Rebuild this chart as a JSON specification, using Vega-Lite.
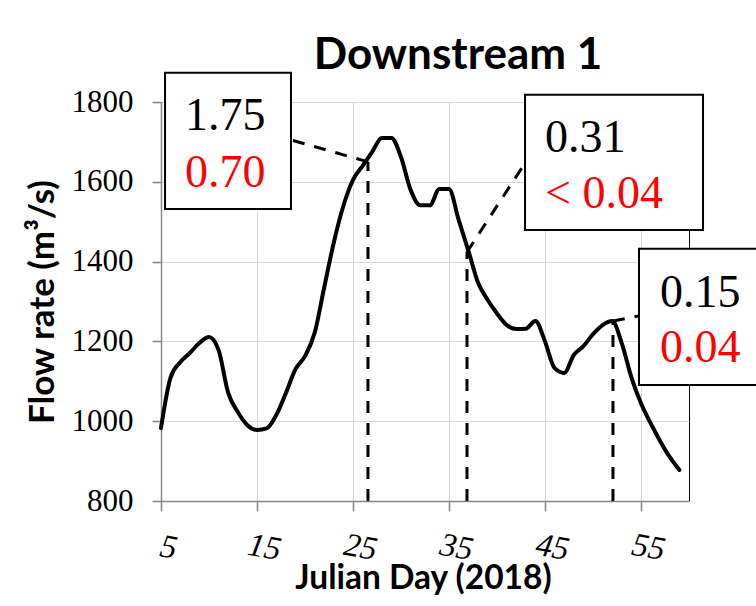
{
  "$schema": "https://vega.github.io/schema/vega-lite/v6.json",
  "width": 528,
  "height": 399,
  "autosize": {"type": "none"},
  "padding": {"left": 161, "top": 102, "right": 67, "bottom": 105},
  "background": "white",
  "title": {"text": "Downstream 1", "font": "Lato", "fontSize": 44, "fontWeight": "bold", "color": "#000", "anchor": "middle", "dx": 33, "dy": 70, "offset": 29, "baseline": "alphabetic"},
  "config": {
    "view": {"stroke": "#000", "strokeWidth": 1},
    "axis": {
      "grid": true,
      "gridColor": "#d9d9d9",
      "gridWidth": 1,
      "domainColor": "#868686",
      "domainWidth": 1.5,
      "tickColor": "#868686",
      "tickWidth": 1.5,
      "labelColor": "#000",
      "labelFont": "Liberation Serif",
      "labelFontWeight": "normal",
      "labelFontSize": 31,
      "titleColor": "#000",
      "titleFont": "Lato",
      "titleFontWeight": "bold",
      "titleLimit": 1000,
      "labelLimit": 1000
    }
  },
  "encoding": {
    "x": {
      "field": "day",
      "type": "quantitative",
      "scale": {"domain": [5, 60], "nice": false, "zero": false},
      "axis": {
        "values": [5, 15, 25, 35, 45, 55],
        "format": "d",
        "tickSize": 10,
        "labelFontStyle": "italic",
        "labelFontSize": 33,
        "labelAngle": 10,
        "labelAlign": "center",
        "labelBaseline": "middle",
        "labelPadding": 36,
        "labelOffset": 7,
        "labelFlush": false,
        "labelOverlap": false,
        "title": "Julian Day (2018)",
        "titleFontSize": 33.5,
        "titleX": 262,
        "titleY": 87,
        "titleAlign": "center",
        "titleBaseline": "alphabetic"
      }
    },
    "y": {
      "field": "flow",
      "type": "quantitative",
      "scale": {"domain": [800, 1800], "nice": false, "zero": false},
      "axis": {
        "values": [800, 1000, 1200, 1400, 1600, 1800],
        "format": "d",
        "tickSize": 9,
        "labelPadding": 19,
        "title": "Flow rate (m³/s)",
        "titleFontSize": 35,
        "titleAngle": -90,
        "titleX": -108,
        "titleY": 199.5,
        "titleAlign": "center",
        "titleBaseline": "alphabetic"
      }
    }
  },
  "layer": [
    {
      "data": {"values": [
        {"day": 5, "flow": 983}, {"day": 6, "flow": 1110}, {"day": 7, "flow": 1148}, {"day": 8, "flow": 1171},
        {"day": 9, "flow": 1196}, {"day": 10, "flow": 1211}, {"day": 11, "flow": 1178}, {"day": 12, "flow": 1071},
        {"day": 13, "flow": 1023}, {"day": 14, "flow": 990}, {"day": 15, "flow": 978}, {"day": 16, "flow": 982},
        {"day": 17, "flow": 1015}, {"day": 18, "flow": 1070}, {"day": 19, "flow": 1130}, {"day": 20, "flow": 1163},
        {"day": 21, "flow": 1221}, {"day": 22, "flow": 1335}, {"day": 23, "flow": 1448}, {"day": 24, "flow": 1540},
        {"day": 25, "flow": 1605}, {"day": 26, "flow": 1640}, {"day": 27, "flow": 1675}, {"day": 28, "flow": 1710},
        {"day": 29, "flow": 1710}, {"day": 30, "flow": 1662}, {"day": 31, "flow": 1580}, {"day": 32, "flow": 1541},
        {"day": 33, "flow": 1541}, {"day": 34, "flow": 1582}, {"day": 35, "flow": 1582}, {"day": 36, "flow": 1505},
        {"day": 37, "flow": 1429}, {"day": 38, "flow": 1349}, {"day": 39, "flow": 1305}, {"day": 40, "flow": 1270},
        {"day": 41, "flow": 1241}, {"day": 42, "flow": 1231}, {"day": 43, "flow": 1232}, {"day": 44, "flow": 1251},
        {"day": 45, "flow": 1200}, {"day": 46, "flow": 1133}, {"day": 47, "flow": 1121}, {"day": 48, "flow": 1166},
        {"day": 49, "flow": 1188}, {"day": 50, "flow": 1218}, {"day": 51, "flow": 1241}, {"day": 52, "flow": 1251},
        {"day": 53, "flow": 1195}, {"day": 54, "flow": 1110}, {"day": 55, "flow": 1045}, {"day": 56, "flow": 995},
        {"day": 57, "flow": 950}, {"day": 58, "flow": 910}, {"day": 59, "flow": 878}
      ]},
      "mark": {"type": "line", "color": "#000", "strokeWidth": 4, "interpolate": "monotone", "strokeJoin": "round", "strokeCap": "round"}
    },
    {
      "data": {"values": [
        {"day": 26.56, "flow": 800, "day2": 26.56, "flow2": 1650},
        {"day": 26.56, "flow": 1650, "day2": 18.54, "flow2": 1705},
        {"day": 36.875, "flow": 800, "day2": 36.875, "flow2": 1424},
        {"day": 36.875, "flow": 1424, "day2": 42.92, "flow2": 1647},
        {"day": 52.08, "flow": 800, "day2": 52.08, "flow2": 1251},
        {"day": 52.08, "flow": 1251, "day2": 54.79, "flow2": 1264}
      ]},
      "mark": {"type": "rule", "color": "#000", "strokeWidth": 3, "strokeDash": [12, 10]},
      "encoding": {
        "x2": {"field": "day2"},
        "y2": {"field": "flow2"}
      }
    },
    {
      "data": {"values": [
        {"day": 5.42, "day2": 18.54, "flow": 1873, "flow2": 1532},
        {"day": 42.92, "day2": 61.46, "flow": 1818, "flow2": 1479},
        {"day": 54.79, "day2": 68.4, "flow": 1432, "flow2": 1091}
      ]},
      "mark": {"type": "rect", "fill": "#fff", "stroke": "#000", "strokeWidth": 2},
      "encoding": {
        "x2": {"field": "day2"},
        "y2": {"field": "flow2"}
      }
    },
    {
      "data": {"values": [
        {"day": 7.5, "flow": 1730, "label": "1.75", "line": "upper"},
        {"day": 7.5, "flow": 1587, "label": "0.70", "line": "lower"},
        {"day": 45.0, "flow": 1675, "label": "0.31", "line": "upper"},
        {"day": 45.0, "flow": 1534, "label": "< 0.04", "line": "lower"},
        {"day": 56.98, "flow": 1286, "label": "0.15", "line": "upper"},
        {"day": 56.98, "flow": 1148, "label": "0.04", "line": "lower"}
      ]},
      "mark": {"type": "text", "font": "Liberation Serif", "fontSize": 46, "align": "left", "baseline": "alphabetic"},
      "encoding": {
        "text": {"field": "label"},
        "color": {"field": "line", "type": "nominal", "scale": {"domain": ["upper", "lower"], "range": ["#000000", "#ff0000"]}, "legend": null}
      }
    }
  ]
}
